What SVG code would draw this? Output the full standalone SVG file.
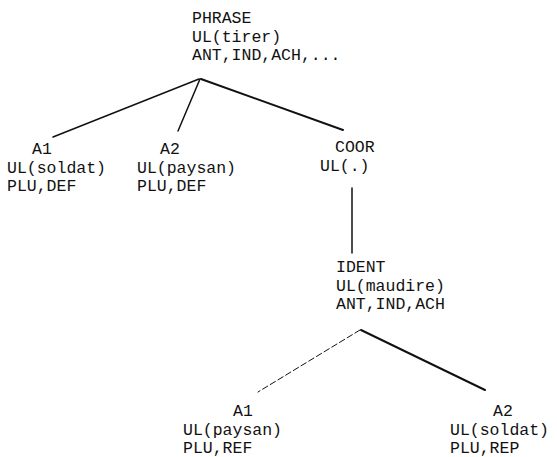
<svg xmlns="http://www.w3.org/2000/svg" width="557" height="457" viewBox="0 0 557 457">
<style>
text{font-family:"Liberation Mono","DejaVu Sans Mono",monospace;font-size:16.5px;fill:#111}
.e{stroke:#111;fill:none;stroke-linecap:round}
.s{stroke-width:2}
.t{stroke-width:1.5}
.d{stroke-width:1;stroke-dasharray:6 3}
</style>
<rect width="557" height="457" fill="#fff"/>
<g id="connectors">
<line class="e t" x1="199" y1="79" x2="53" y2="137"/>
<line class="e t" x1="200" y1="79" x2="178" y2="131"/>
<line class="e s" x1="201" y1="79" x2="343" y2="130"/>
<line class="e t" x1="352" y1="188" x2="352" y2="253"/>
<line class="e d" x1="360" y1="330" x2="258" y2="392"/>
<line class="e s" x1="361" y1="330" x2="485" y2="390"/>
</g>
<g id="phrase">
<text x="192" y="23">PHRASE</text>
<text x="192" y="41.5">UL(tirer)</text>
<text x="192" y="60">ANT,IND,ACH,...</text>
</g>
<g id="a1-top">
<text x="32" y="154">A1</text>
<text x="7" y="172.5">UL(soldat)</text>
<text x="7" y="191">PLU,DEF</text>
</g>
<g id="a2-top">
<text x="160" y="154">A2</text>
<text x="137" y="172.5">UL(paysan)</text>
<text x="137" y="191">PLU,DEF</text>
</g>
<g id="coor">
<text x="335" y="152">COOR</text>
<text x="320" y="170.5">UL(.)</text>
</g>
<g id="ident">
<text x="336" y="272">IDENT</text>
<text x="336" y="290.5">UL(maudire)</text>
<text x="336" y="309">ANT,IND,ACH</text>
</g>
<g id="a1-bottom">
<text x="233" y="416">A1</text>
<text x="183" y="434.5">UL(paysan)</text>
<text x="183" y="453">PLU,REF</text>
</g>
<g id="a2-bottom">
<text x="493" y="416">A2</text>
<text x="450" y="434.5">UL(soldat)</text>
<text x="450" y="453">PLU,REP</text>
</g>
</svg>
